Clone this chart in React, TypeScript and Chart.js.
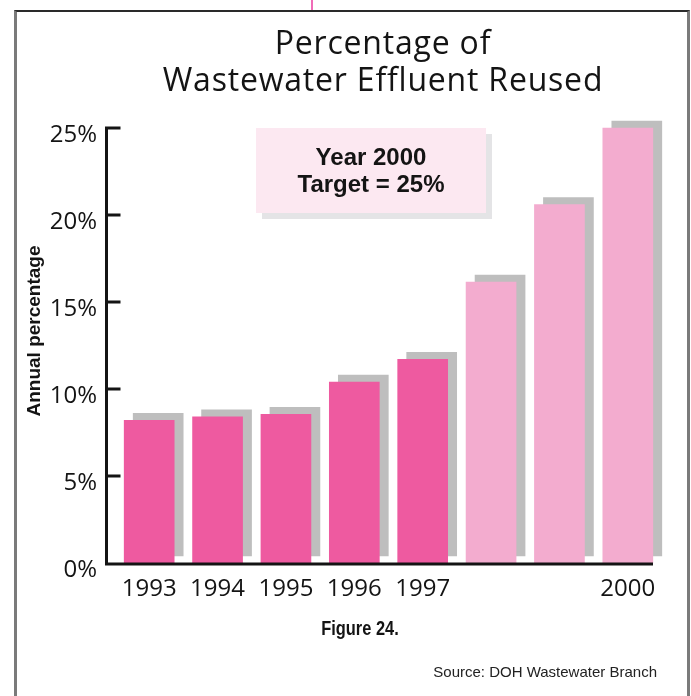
import { useEffect, useRef } from "react";
import { Chart, registerables } from "chart.js";

Chart.register(...registerables);

// Reuse of wastewater effluent, percent per year (1998–2000 are planned values)
const years = ["1993", "1994", "1995", "1996", "1997", "1998", "1999", "2000"];
const yearTickLabels = ["1993", "1994", "1995", "1996", "1997", "", "", "2000"];
const reusedPercent = [8.2, 8.4, 8.55, 10.4, 11.7, 16.15, 20.6, 25];
const isProjected = [false, false, false, false, false, true, true, true];
const yTickStep = 5;
const yMax = 25;

const ACTUAL_PINK = "#ee5aa0";
const PLAN_PINK = "#f3accf";
const SHADOW_GRAY = "#bebebe";
const INK = "#141414";

// Gray drop shadow behind every bar, shifted right and up.
const barShadow = {
  id: "barShadow",
  beforeDatasetDraw(chart: any) {
    const ctx = chart.ctx;
    ctx.save();
    ctx.shadowColor = SHADOW_GRAY;
    ctx.shadowBlur = 0;
    ctx.shadowOffsetX = 9;
    ctx.shadowOffsetY = -7;
  },
  afterDatasetDraw(chart: any) {
    chart.ctx.restore();
  },
};

// Axis lines with inward ticks, plus the rotated y-axis caption.
const axisFrame = {
  id: "axisFrame",
  afterDatasetsDraw(chart: any) {
    const { ctx, chartArea } = chart;
    const y = chart.scales.y;
    const axisX = chartArea.left - 8.5;
    const y0 = y.getPixelForValue(0);
    const yTop = y.getPixelForValue(yMax);
    ctx.save();
    ctx.strokeStyle = INK;
    ctx.lineWidth = 3;
    ctx.lineCap = "butt";
    ctx.beginPath();
    ctx.moveTo(axisX, yTop - 1.5);
    ctx.lineTo(axisX, y0 + 2.5);
    ctx.moveTo(axisX - 1.5, y0 + 1);
    ctx.lineTo(chartArea.right - 9, y0 + 1);
    for (const t of y.ticks) {
      if (t.value === 0) continue;
      const py = y.getPixelForValue(t.value);
      ctx.moveTo(axisX, py);
      ctx.lineTo(axisX + 14, py);
    }
    ctx.stroke();

    ctx.translate(35, 331);
    ctx.rotate(-Math.PI / 2);
    ctx.fillStyle = INK;
    ctx.font = "bold 19px 'Liberation Sans', Arial, sans-serif";
    ctx.textAlign = "center";
    ctx.textBaseline = "middle";
    ctx.fillText("Annual percentage", 0, 0);
    ctx.restore();
  },
};

function ReuseChart() {
  const canvasRef = useRef<HTMLCanvasElement | null>(null);

  useEffect(() => {
    const canvas = canvasRef.current;
    if (!canvas) return;
    const chart = new Chart(canvas, {
      type: "bar",
      data: {
        labels: years,
        datasets: [
          {
            data: reusedPercent,
            backgroundColor: isProjected.map((p) => (p ? PLAN_PINK : ACTUAL_PINK)),
            borderWidth: 0,
            barThickness: 50,
            clip: false as any,
          },
        ],
      },
      options: {
        responsive: false,
        maintainAspectRatio: false,
        animation: false,
        devicePixelRatio: 1,
        events: [],
        layout: { padding: { left: 0, top: 128, right: 29, bottom: 0 } },
        plugins: {
          legend: { display: false },
          tooltip: { enabled: false },
          title: { display: false },
        },
        scales: {
          x: {
            type: "category",
            offset: true,
            grid: { display: false, drawTicks: false },
            border: { display: false },
            ticks: {
              autoSkip: false,
              maxRotation: 0,
              minRotation: 0,
              padding: 12,
              color: INK,
              font: { family: "'Open Sans', sans-serif", size: 24 },
              callback: (_v: any, i: number) => yearTickLabels[i],
            },
            afterFit: (s: any) => {
              s.height = 133;
            },
          },
          y: {
            type: "linear",
            min: 0,
            max: yMax,
            grid: { display: false, drawTicks: false },
            border: { display: false },
            ticks: {
              stepSize: yTickStep,
              padding: 18,
              labelOffset: 7,
              color: INK,
              font: { family: "'Open Sans', sans-serif", size: 24 },
              callback: (v: any) => `${v}%`,
            },
            afterFit: (s: any) => {
              s.width = 115;
            },
          },
        },
      },
      plugins: [barShadow, axisFrame],
    });
    return () => chart.destroy();
  }, []);

  return (
    <canvas
      ref={canvasRef}
      width={691}
      height={696}
      style={{ position: "absolute", left: 0, top: 0, width: 691, height: 696, display: "block" }}
    />
  );
}

export default function App() {
  return (
    <div
      style={{
        position: "fixed",
        left: 0,
        top: 0,
        width: 691,
        height: 696,
        overflow: "hidden",
        background: "#ffffff",
      }}
    >
      <div
        style={{
          position: "absolute",
          left: 14,
          top: 10,
          width: 676,
          height: 720,
          boxSizing: "border-box",
          borderTop: "2px solid #2a2a2a",
          borderLeft: "3px solid #7a7a7a",
          borderRight: "3px solid #7a7a7a",
        }}
      />
      <div style={{ position: "absolute", left: 311, top: 0, width: 2, height: 10, background: "#f06cb8" }} />
      <ReuseChart />
      <div
        style={{
          position: "absolute",
          left: 133,
          top: 23,
          width: 500,
          textAlign: "center",
          fontFamily: "'Open Sans', sans-serif",
          fontWeight: 400,
          fontSize: 32,
          letterSpacing: 0.8,
          lineHeight: "37px",
          color: INK,
        }}
      >
        Percentage of
        <br />
        Wastewater Effluent Reused
      </div>
      <div
        style={{
          position: "absolute",
          left: 256,
          top: 128,
          width: 230,
          height: 85,
          boxSizing: "border-box",
          paddingTop: 15,
          background: "#fce8f1",
          boxShadow: "6px 6px 0 #e4e4e6",
          textAlign: "center",
          fontFamily: "'Liberation Sans', Arial, sans-serif",
          fontWeight: "bold",
          fontSize: 24,
          lineHeight: "27px",
          color: INK,
        }}
      >
        Year 2000
        <br />
        Target = 25%
      </div>
      <div
        style={{
          position: "absolute",
          left: 260,
          top: 616,
          width: 200,
          textAlign: "center",
          fontFamily: "'Liberation Sans', sans-serif",
          fontWeight: "bold",
          fontSize: 20,
          lineHeight: "24px",
          color: INK,
          transform: "scaleX(0.82)",
        }}
      >
        Figure 24.
      </div>
      <div
        style={{
          position: "absolute",
          left: 357,
          top: 662,
          width: 300,
          textAlign: "right",
          fontFamily: "'Liberation Sans', sans-serif",
          fontSize: 15,
          lineHeight: "20px",
          color: "#222",
        }}
      >
        Source: DOH Wastewater Branch
      </div>
    </div>
  );
}
